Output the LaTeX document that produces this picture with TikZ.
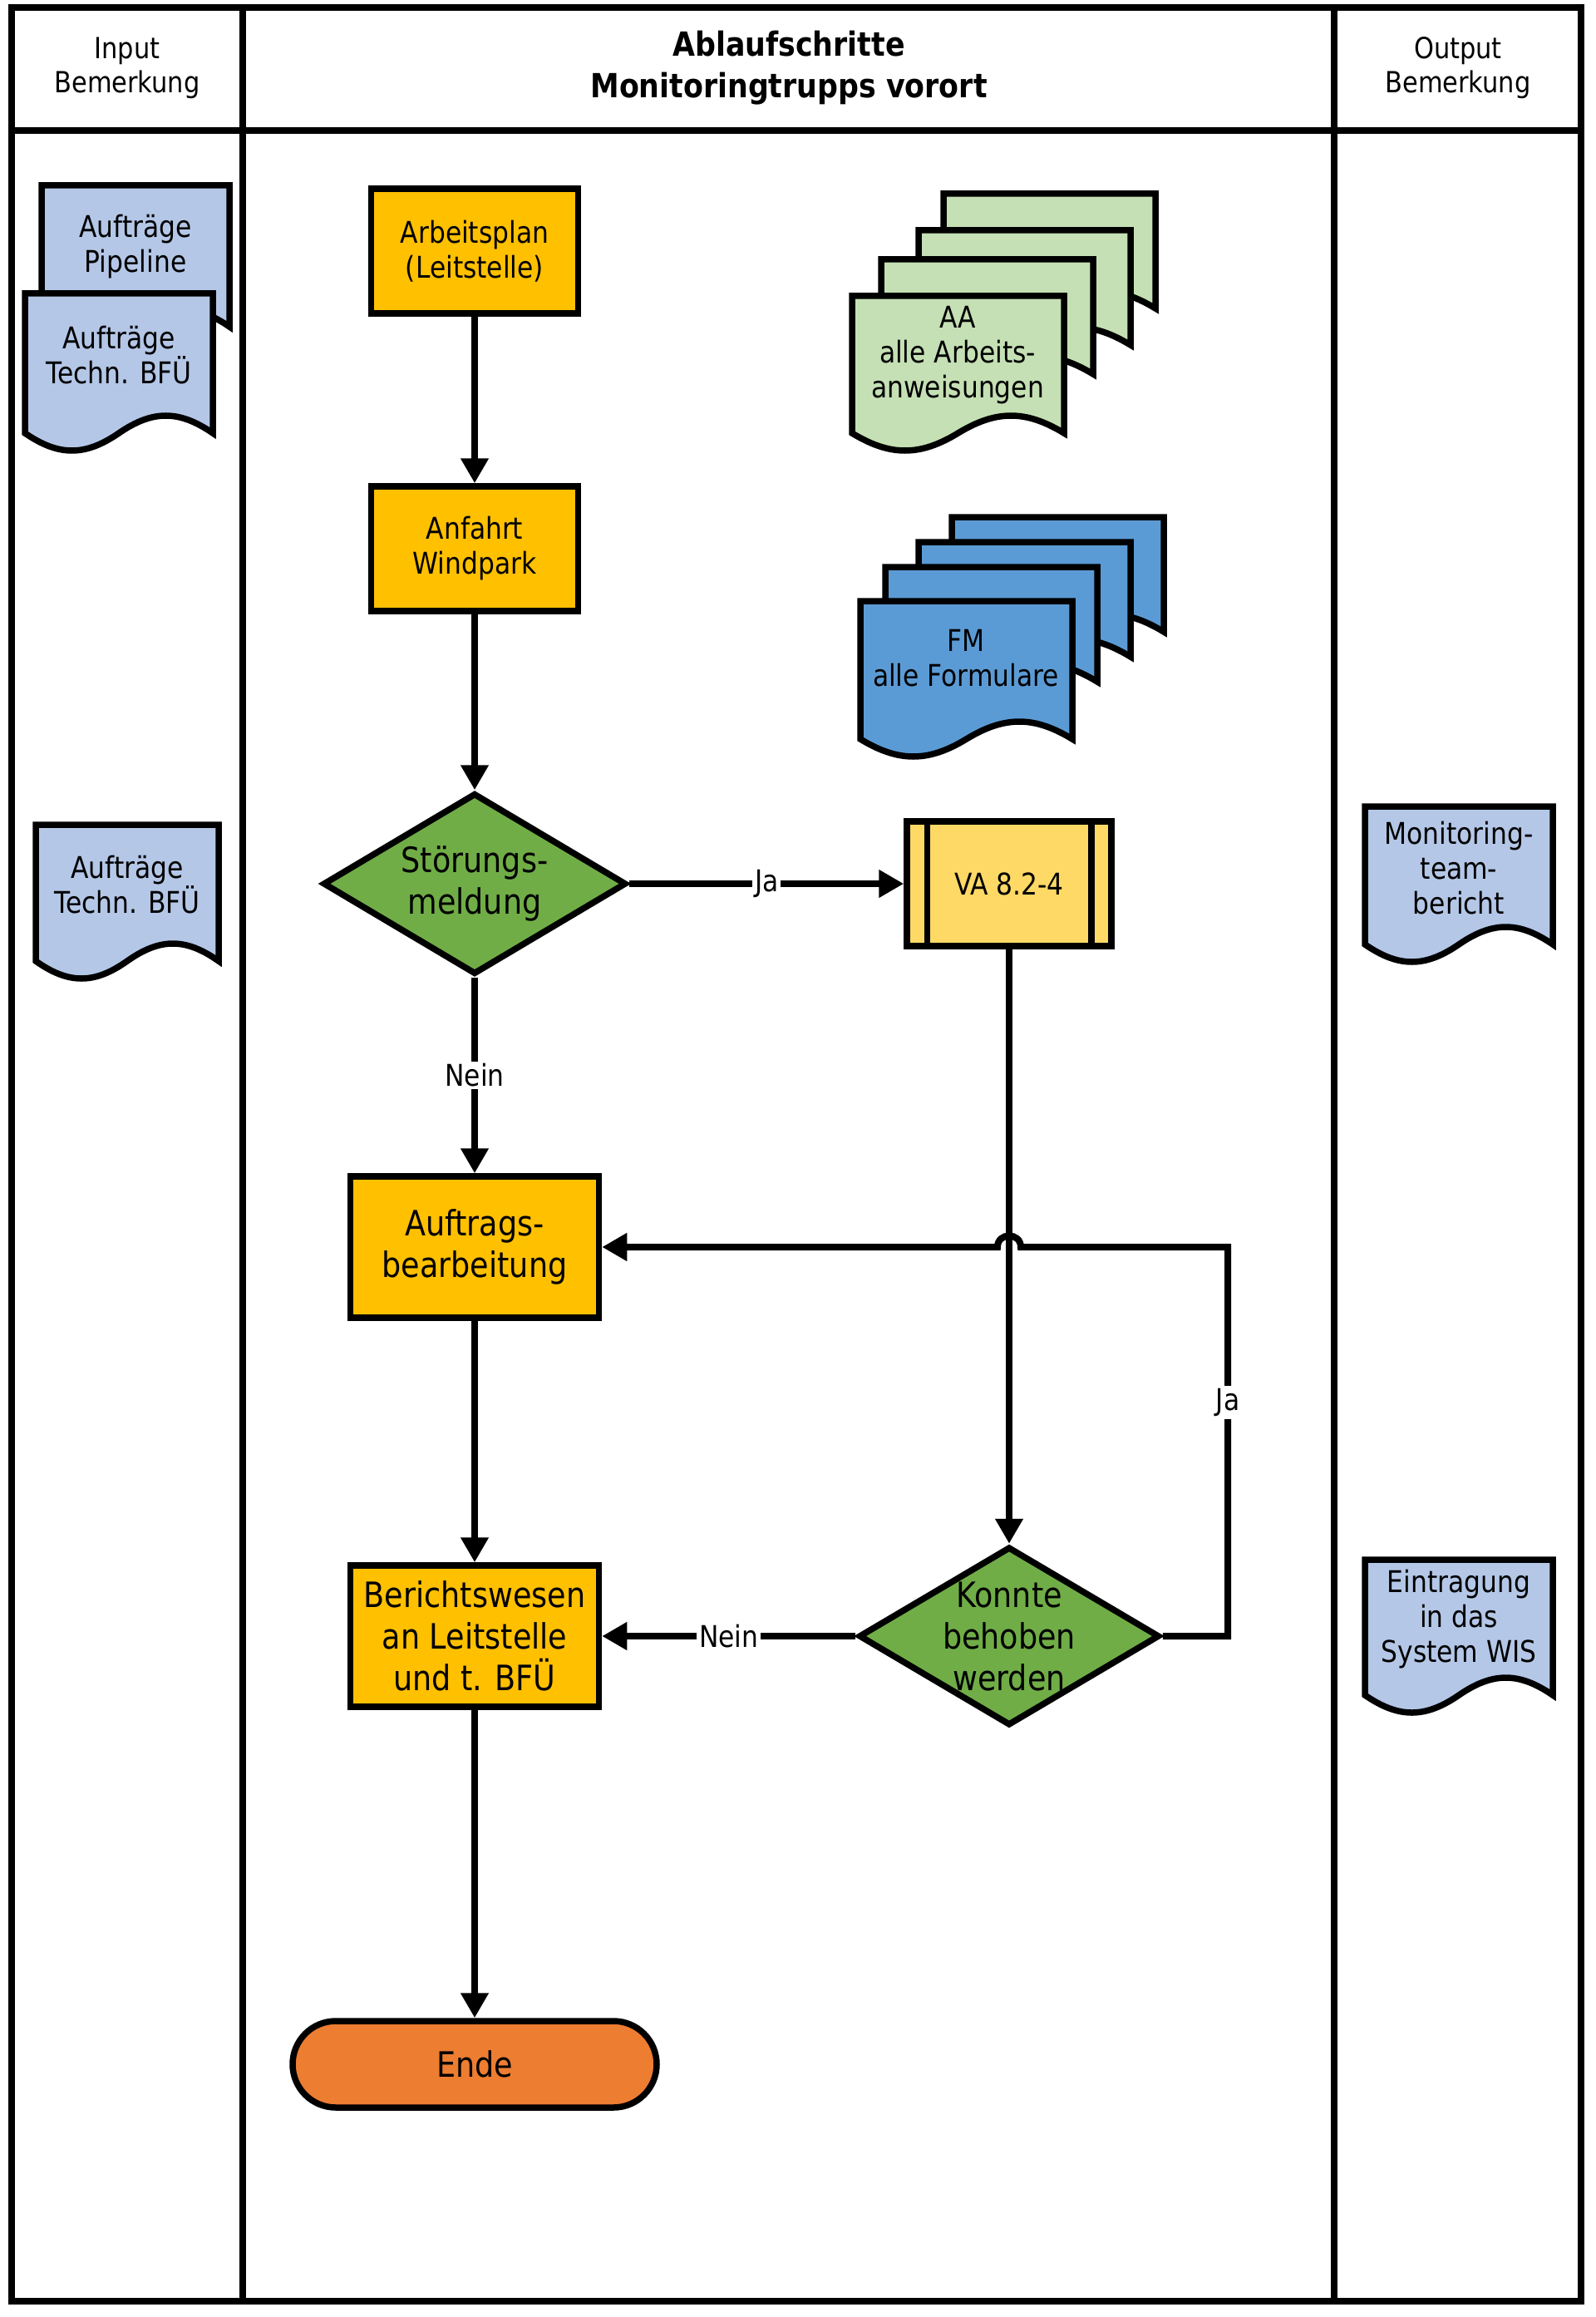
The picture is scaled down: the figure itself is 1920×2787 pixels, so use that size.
\documentclass[tikz,border=0pt]{standalone}
\usepackage{fontspec}
\setmainfont{DejaVu Sans}[FakeStretch=0.87]
\usetikzlibrary{shapes.geometric,arrows.meta}
\definecolor{boxorange}{HTML}{FFC000}
\definecolor{vayellow}{HTML}{FFD966}
\definecolor{decgreen}{HTML}{70AD47}
\definecolor{endorange}{HTML}{ED7D31}
\definecolor{doclblue}{HTML}{B4C7E7}
\definecolor{aagreen}{HTML}{C5E0B4}
\definecolor{fmblue}{HTML}{5B9BD5}
\newcommand{\smallfont}{\fontsize{18pt}{21pt}\selectfont}
\newcommand{\largefont}{\fontsize{21pt}{25pt}\selectfont}
\newcommand{\titlefont}{\fontsize{20pt}{25pt}\selectfont\bfseries}
\newcommand{\headfont}{\fontsize{17.5pt}{20.5pt}\selectfont}
% document shape: x, y (top left), width, height to wave middle, fill
\newcommand{\docshape}[5]{%
  \draw[shapeline, fill=#5] (#1,#2+#4) -- (#1,#2) -- (#1+#3,#2) -- (#1+#3,#2+#4)
    .. controls (#1+0.82*#3,#2+#4-28) and (#1+0.68*#3,#2+#4-28) .. (#1+0.5*#3,#2+#4)
    .. controls (#1+0.32*#3,#2+#4+28) and (#1+0.18*#3,#2+#4+28) .. cycle;}
\tikzset{
  frameline/.style={line width=4pt, draw=black},
  shapeline/.style={line width=3.75pt, draw=black, line join=miter},
  procbox/.style={shapeline, rectangle, fill=boxorange, minimum width=124.5pt, minimum height=75pt, inner sep=0pt, align=center, font=\smallfont},
  bigbox/.style={shapeline, rectangle, fill=boxorange, minimum width=149.5pt, minimum height=85pt, inner sep=0pt, align=center, font=\largefont},
  vabox/.style={shapeline, rectangle, fill=vayellow, minimum width=123pt, minimum height=75pt, inner sep=0pt, font=\smallfont},
  decision/.style={shapeline, diamond, fill=decgreen, inner sep=0pt},
  endbox/.style={shapeline, rectangle, rounded corners=26pt, fill=endorange, minimum width=219pt, minimum height=52pt, inner sep=0pt, font=\largefont},
  txt/.style={align=center, inner sep=0pt},
  conn/.style={line width=4pt, draw=black, -{Triangle[length=15pt,width=16pt]}},
  lbl/.style={fill=white, inner sep=1.5pt, font=\smallfont}
}
\begin{document}
\begin{tikzpicture}[x=0.5pt, y=-0.5pt]
\useasboundingbox (0,0) rectangle (1920,2787);
\fill[white] (0,0) rectangle (1920,2787);

% frame and lanes
\draw[frameline] (14,9) rectangle (1902,2768);
\draw[frameline] (14,157) -- (1902,157);
\draw[frameline] (292,9) -- (292,2768);
\draw[frameline] (1605,9) -- (1605,2768);

\node[txt, font=\headfont] (hin) at (153,82) {Input\\Bemerkung};
\node[txt, font=\titlefont] (hmid) at (949,82) {Ablaufschritte\\Monitoringtrupps vorort};
\node[txt, font=\headfont] (hout) at (1754,82) {Output\\Bemerkung};

% input documents
\docshape{50}{223}{226}{170}{doclblue}
\node[txt, font=\smallfont] (in1) at (163,297) {Aufträge\\Pipeline};
\docshape{30}{353}{226}{168}{doclblue}
\node[txt, font=\smallfont] (in2) at (143,427) {Aufträge\\Techn. BFÜ};
\docshape{43}{992}{220}{164}{doclblue}
\node[txt, font=\smallfont] (in3) at (153,1064) {Aufträge\\Techn. BFÜ};

% output documents
\docshape{1642}{970}{226}{166}{doclblue}
\node[txt, font=\smallfont] (out1) at (1755,1044) {Monitoring-\\team-\\bericht};
\docshape{1642}{1876}{226}{163}{doclblue}
\node[txt, font=\smallfont] (out2) at (1755,1948) {Eintragung\\in das\\System WIS};

% AA stack
\docshape{1135}{233}{255}{138}{aagreen}
\docshape{1105}{277}{255}{138}{aagreen}
\docshape{1060}{312}{255}{138}{aagreen}
\docshape{1025}{356}{255}{165}{aagreen}
\node[txt, font=\smallfont] (aa) at (1152,427) {AA\\alle Arbeits-\\anweisungen};

% FM stack
\docshape{1145}{622}{255}{138}{fmblue}
\docshape{1105}{652}{255}{138}{fmblue}
\docshape{1065}{682}{255}{138}{fmblue}
\docshape{1035}{723}{255}{166}{fmblue}
\node[txt, font=\smallfont] (fm) at (1162,792) {FM\\alle Formulare};

% flow
\node[procbox] (arb) at (571,302) {Arbeitsplan\\(Leitstelle)};
\node[procbox] (anf) at (571,660) {Anfahrt\\Windpark};
\node[decision, minimum width=182.5pt, minimum height=109pt] (stoer) at (571,1063) {};
\node[txt, font=\largefont] (stoert) at (stoer) {Störungs-\\meldung};
\node[vabox] (va) at (1214,1063) {VA 8.2-4};
\draw[shapeline] ([xshift=14pt]va.north west) -- ([xshift=14pt]va.south west);
\draw[shapeline] ([xshift=-14pt]va.north east) -- ([xshift=-14pt]va.south east);
\node[bigbox] (auf) at (571,1500) {Auftrags-\\bearbeitung};
\node[bigbox] (ber) at (571,1968) {Berichtswesen\\an Leitstelle\\und t. BFÜ};
\node[decision, minimum width=181pt, minimum height=107.5pt] (konnte) at (1214,1968) {};
\node[txt, font=\largefont] (konntet) at (konnte) {Konnte\\behoben\\werden};
\node[endbox] (ende) at (571,2483) {Ende};

\coordinate (loopc) at (1477,1500);
\coordinate (jr) at (1228,1500);
\coordinate (jl) at (1200,1500);

\draw[conn] (arb) -- (anf);
\draw[conn] (anf) -- (stoer);
\draw[conn] (stoer.east) -- node[lbl] {Ja} (va.west);
\draw[conn] (stoer.south) -- node[lbl] {Nein} (auf.north);
\draw[conn] (va.south) -- (konnte.north);
\draw[conn] (konnte.east) -| (loopc) node[pos=0.8, lbl] {Ja} -- (jr) .. controls (1228,1482) and (1200,1482) .. (jl) -- (auf.east);
\draw[conn] (konnte.west) -- node[lbl] {Nein} (ber.east);
\draw[conn] (auf.south) -- (ber.north);
\draw[conn] (ber.south) -- (ende.north);
\end{tikzpicture}
\end{document}
